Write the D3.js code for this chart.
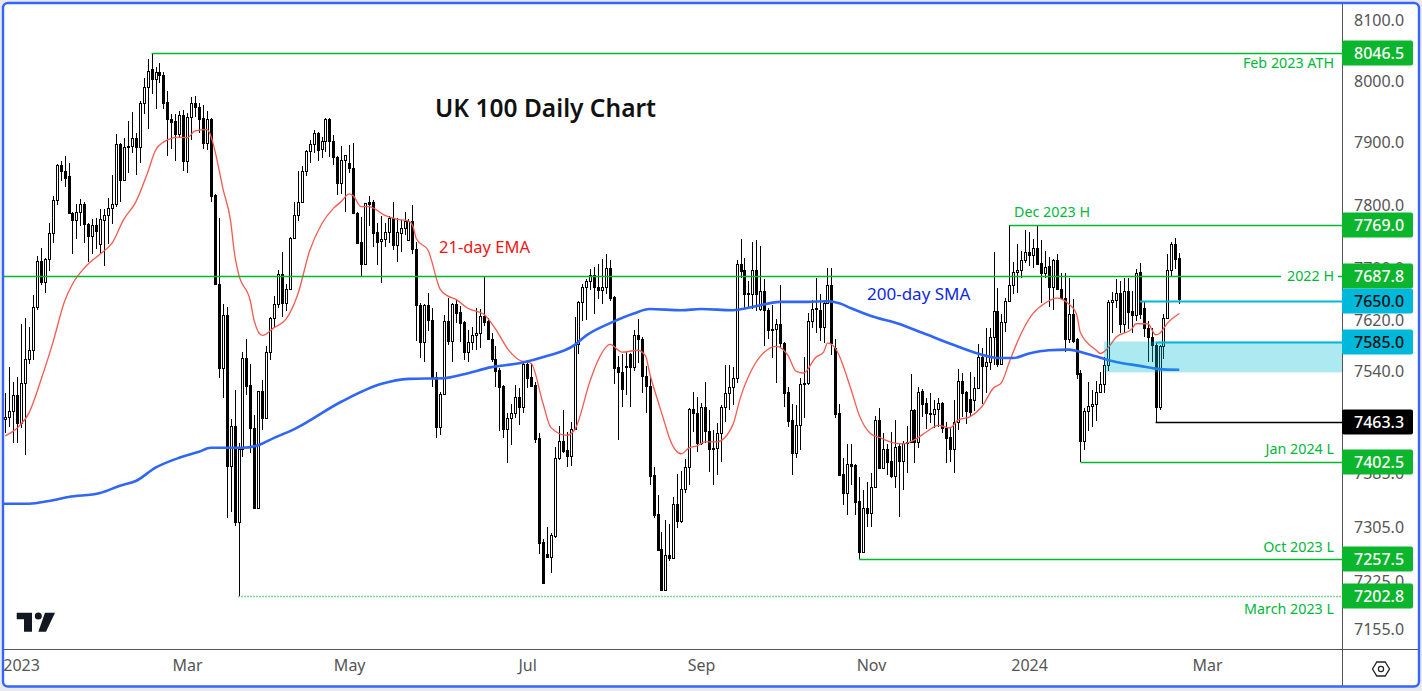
<!DOCTYPE html>
<html>
<head>
<meta charset="utf-8">
<title>UK 100 Daily Chart</title>
<script src="https://cdn.jsdelivr.net/npm/d3@7"></script>
<style>
	html, body { margin: 0; padding: 0; background: #e9e9ef; overflow: hidden; }
	svg { display: block; }
	text { font-family: "Noto Sans", sans-serif; }
</style>
</head>
<body>
<svg id="chart" width="1422" height="691"></svg>
<script>
"use strict";

//daily candles, one value per trading day
var opens = [
	7467,7471,7480,7504,7461,7523,7559,7573,7640,7712,7679,7715,7756,7808,7865,7855,7846,7788,7776,7789,
	7802,7770,7751,7769,7739,7776,7784,7795,7802,7898,7841,7893,7894,7908,7893,7965,7991,8019,8004,8015,
	8010,7966,7939,7935,7914,7945,7870,7942,7965,7958,7940,7899,7939,7816,7676,7545,7627,7396,7457,7313,
	7422,7561,7520,7454,7334,7510,7469,7571,7623,7645,7692,7646,7668,7748,7784,7806,7854,7886,7898,7916,
	7890,7903,7939,7903,7877,7836,7873,7868,7860,7788,7742,7707,7806,7805,7758,7743,7747,7758,7780,7737,
	7756,7764,7745,7775,7731,7643,7585,7643,7620,7532,7455,7506,7618,7587,7645,7632,7617,7571,7585,7597,
	7599,7626,7618,7591,7559,7542,7518,7452,7469,7477,7501,7486,7552,7532,7520,7439,7283,7265,7261,7292,
	7409,7434,7421,7412,7452,7582,7648,7671,7681,7690,7671,7667,7671,7701,7656,7547,7539,7549,7568,7547,
	7597,7590,7533,7518,7383,7325,7273,7212,7264,7259,7340,7314,7362,7395,7483,7477,7431,7486,7449,7422,
	7423,7446,7486,7507,7517,7530,7707,7698,7660,7660,7698,7637,7665,7635,7605,7606,7614,7584,7509,7466,
	7416,7458,7521,7522,7618,7637,7635,7609,7646,7674,7577,7477,7385,7356,7400,7398,7344,7268,7334,7326,
	7365,7466,7394,7422,7404,7382,7427,7404,7431,7433,7482,7433,7511,7492,7477,7476,7483,7492,7454,7440,
	7422,7463,7526,7509,7498,7497,7515,7562,7549,7555,7593,7634,7552,7617,7649,7674,7695,7698,7714,7726,
	7721,7732,7709,7693,7704,7671,7714,7668,7654,7590,7629,7591,7538,7434,7480,7488,7491,7509,7521,7550,
	7648,7651,7662,7614,7665,7634,7627,7695,7638,7608,7593,7581,7486,7579,7623,7698,7739,7717
];
var highs = [
	7507,7547,7524,7532,7614,7623,7609,7659,7720,7732,7717,7772,7815,7866,7870,7878,7868,7790,7802,7810,
	7806,7772,7778,7780,7794,7794,7811,7849,7914,7899,7908,7935,7950,7916,7968,8005,8036,8046.5,8023,8030,
	8014,7983,7947,7947,7952,7953,7948,7974,7976,7965,7961,7952,7940,7818,7780,7645,7640,7468,7512,7431,
	7570,7591,7552,7474,7511,7527,7579,7624,7657,7698,7726,7676,7749,7806,7854,7862,7888,7904,7921,7917,
	7909,7940,7940,7912,7878,7895,7881,7896,7899,7789,7781,7804,7815,7808,7772,7783,7772,7783,7805,7780,
	7776,7789,7778,7800,7742,7646,7644,7662,7638,7539,7509,7627,7654,7646,7652,7641,7618,7605,7609,7638,
	7637,7687,7623,7599,7579,7545,7520,7477,7491,7520,7515,7555,7555,7553,7524,7446,7287,7305,7296,7425,
	7457,7482,7448,7463,7624,7650,7676,7684,7700,7703,7707,7715,7723,7714,7657,7564,7568,7570,7569,7605,
	7622,7593,7549,7532,7395,7353,7298,7316,7310,7350,7385,7389,7407,7484,7509,7501,7492,7524,7482,7451,
	7461,7489,7550,7550,7547,7714,7747,7717,7681,7742,7745,7736,7684,7638,7643,7622,7674,7585,7517,7491,
	7489,7530,7562,7630,7651,7685,7660,7651,7701,7701,7590,7491,7409,7430,7430,7400,7380,7361,7373,7386,
	7472,7485,7446,7430,7448,7466,7430,7434,7457,7536,7483,7517,7513,7500,7507,7497,7500,7494,7463,7455,
	7497,7544,7538,7510,7539,7532,7582,7577,7608,7608,7726,7670,7629,7654,7769,7711,7739,7728,7761,7758,
	7747,7769,7745,7728,7718,7715,7723,7693,7693,7685,7652,7592,7542,7485,7524,7512,7526,7539,7562,7651,
	7663,7684,7681,7685,7685,7665,7700,7709,7649,7618,7608,7585,7581,7629,7723,7742,7748,7725
];
var lows = [
	7446,7455,7431,7431,7454,7413,7552,7558,7635,7674,7662,7696,7740,7800,7839,7829,7786,7723,7747,7767,
	7740,7711,7723,7731,7725,7704,7739,7770,7798,7805,7839,7851,7883,7849,7867,7947,7922,7979,7955,7996,
	7955,7878,7890,7870,7908,7854,7852,7904,7942,7916,7890,7888,7805,7674,7530,7500,7318,7328,7307,7202.8,
	7410,7504,7416,7333,7333,7451,7468,7558,7608,7638,7624,7634,7667,7747,7775,7805,7847,7867,7883,7870,
	7875,7885,7877,7864,7816,7818,7789,7852,7787,7739,7689,7706,7767,7734,7706,7678,7734,7740,7729,7711,
	7726,7753,7743,7723,7588,7561,7555,7603,7517,7439,7443,7505,7581,7555,7615,7585,7558,7555,7573,7574,
	7577,7611,7590,7555,7517,7449,7439,7401,7428,7469,7458,7477,7515,7517,7431,7265,7222,7260,7237,7289,
	7406,7416,7395,7397,7451,7568,7618,7620,7667,7629,7652,7645,7660,7649,7521,7436,7486,7504,7486,7541,
	7553,7507,7477,7368,7319,7270,7211,7211,7255,7259,7304,7311,7356,7368,7448,7418,7428,7431,7388,7368,
	7383,7403,7463,7482,7489,7523,7685,7638,7637,7637,7634,7634,7579,7590,7561,7523,7577,7486,7455,7383,
	7409,7421,7469,7520,7608,7600,7588,7584,7645,7565,7469,7382,7338,7323,7368,7323,7258,7267,7305,7305,
	7364,7393,7393,7383,7379,7364,7320,7361,7386,7432,7401,7424,7471,7452,7461,7454,7455,7446,7401,7403,
	7386,7451,7471,7460,7471,7480,7514,7491,7507,7542,7550,7547,7550,7602,7648,7660,7662,7685,7709,7704,
	7701,7706,7646,7685,7640,7635,7667,7652,7571,7584,7584,7529,7402.5,7421,7449,7455,7465,7507,7507,7541,
	7599,7638,7600,7599,7606,7600,7618,7622,7593,7555,7555,7463.3,7482,7559,7622,7689,7700,7645
];
var closes = [
	7470,7480,7504,7461,7523,7559,7573,7640,7712,7679,7715,7756,7808,7865,7854,7844,7788,7776,7789,7802,
	7770,7751,7769,7759,7778,7784,7795,7802,7898,7841,7893,7894,7908,7893,7965,7991,8017,8004,8015,8009,
	7965,7939,7934,7914,7945,7870,7942,7965,7957,7939,7899,7939,7815,7676,7545,7627,7396,7457,7313,7422,
	7561,7518,7454,7334,7510,7469,7571,7623,7645,7692,7646,7668,7748,7784,7806,7854,7886,7898,7916,7888,
	7903,7939,7903,7877,7836,7873,7880,7859,7788,7740,7707,7803,7802,7756,7742,7747,7758,7780,7737,7758,
	7764,7775,7775,7731,7643,7585,7643,7620,7532,7455,7506,7618,7587,7645,7630,7615,7571,7585,7597,7599,
	7626,7617,7591,7559,7541,7517,7452,7469,7477,7501,7486,7552,7530,7518,7437,7281,7223,7261,7293,7409,
	7434,7419,7412,7452,7582,7648,7671,7681,7690,7671,7667,7671,7701,7654,7545,7539,7514,7547,7547,7597,
	7590,7533,7518,7382,7323,7271,7212,7264,7259,7340,7314,7362,7395,7483,7477,7431,7486,7449,7422,7423,
	7446,7486,7507,7517,7530,7707,7696,7660,7662,7698,7660,7665,7635,7605,7606,7614,7584,7507,7465,7416,
	7458,7521,7522,7618,7637,7638,7609,7646,7674,7584,7476,7383,7356,7400,7397,7343,7268,7334,7326,7365,
	7466,7394,7422,7403,7382,7425,7404,7431,7433,7482,7433,7509,7491,7477,7476,7483,7492,7454,7439,7422,
	7463,7526,7507,7480,7479,7515,7562,7549,7555,7594,7634,7552,7617,7649,7674,7695,7698,7714,7726,7721,
	7732,7707,7693,7703,7671,7714,7668,7654,7590,7629,7588,7536,7434,7480,7488,7491,7509,7521,7550,7648,
	7651,7662,7614,7665,7632,7627,7693,7629,7608,7593,7581,7486,7579,7623,7698,7739,7715,7652
];

//moving averages, read at the bar numbers in the matching *Bars array
var emaBars = [0,3,6,9,12,15,17,20,24,27,30,33,36,38,40,44,46,48,51,52,53,54,55,57,58,59,62,63,65,68,71,74,77,80,83,85,87,88,90,92,96,99,102,103,104,107,110,112,114,117,121,124,127,130,133,136,138,142,144,148,150,153,156,160,162,163,165,167,168,171,173,175,177,180,184,186,189,192,195,198,200,202,205,207,208,210,214,216,219,221,225,227,230,233,236,239,241,244,247,250,252,254,257,260,263,266,269,271,272,276,277,279,281,285,286,289,291,292,294,297];
var emaValues = [7442,7454,7477,7527,7584,7649,7676,7701,7723,7740,7778,7805,7852,7888,7901,7909,7908,7919,7921,7911,7888,7859,7828,7775,7723,7692,7649,7618,7596,7608,7621,7660,7728,7770,7795,7806,7818,7815,7798,7798,7784,7778,7775,7769,7747,7728,7668,7657,7652,7638,7629,7606,7576,7558,7553,7492,7455,7443,7451,7527,7558,7582,7570,7573,7564,7538,7497,7458,7439,7415,7424,7427,7433,7433,7458,7501,7545,7570,7579,7565,7541,7538,7562,7570,7584,7576,7512,7474,7445,7440,7431,7430,7436,7448,7458,7454,7466,7471,7486,7515,7523,7555,7599,7630,7646,7654,7645,7629,7600,7573,7568,7577,7593,7606,7614,7614,7597,7599,7615,7630];
var smaBars = [-1,6,11,16,24,29,33,38,44,49,52,56,60,64,68,73,85,95,102,111,116,123,130,137,144,147,153,159,163,171,176,184,189,196,203,208,211,214,219,226,232,240,246,251,255,259,264,269,274,281,287,292,297];
var smaValues = [7340,7340,7344,7350,7356,7367,7374,7394,7409,7418,7424,7424,7424,7428,7439,7452,7494,7521,7529,7530,7536,7547,7553,7564,7581,7596,7615,7630,7637,7635,7637,7635,7640,7648,7648,7649,7646,7638,7626,7614,7600,7581,7568,7561,7561,7568,7573,7574,7567,7555,7549,7544,7543];

//price axis and date axis
var priceTicks = [8100,8000,7900,7800,7700,7620,7540,7385,7305,7225,7155];
var dateBars = [4,46,87,132,176,219,259,304];
var dateLabels = ["2023","Mar","May","Jul","Sep","Nov","2024","Mar"];

//horizontal levels and their price tags on the axis
var levelValues = [8046.5,7769,7687.8,7650,7585,7463.3,7402.5,7257.5,7202.8];
var levelStartBars = [37,254,-1,287,291,291,272,216,59];
var levelKinds = ["green","green","green","cyan","cyan","black","green","green","dotted"];

//notes written on the chart
var noteTexts = ["Feb 2023 ATH","2022 H","Jan 2024 L","Oct 2023 L","March 2023 L"];
var noteYs = [63,276,449,547,609];

var colors = {
	green: {line: "#00b82e", box: "#0bb52c", text: "#fff"},
	dotted: {line: "#00a82a", box: "#0bb52c", text: "#fff"},
	cyan: {line: "#00b8d9", box: "#00b8d9", text: "#111"},
	black: {line: "#000", box: "#000", text: "#fff"}
};

var plotRight = 1342;
var plotBottom = 649;

var svg = d3.select("#chart");

//white chart card, the blue border goes on last
svg.append("rect")
	.attr("x", 3)
	.attr("y", 3)
	.attr("width", 1416)
	.attr("height", 683.5)
	.attr("rx", 5)
	.style("fill", "#fff");

//the bars sit evenly spaced, the price scale is logarithmic
var x = d3.scaleLinear().domain([0, opens.length - 1]).range([5.3, 1179.3]);
var y = d3.scaleLog().domain([7155, 8100]).range([629, 20]);

svg.append("clipPath")
	.attr("id", "plotClip")
	.append("rect")
	.attr("x", 4)
	.attr("y", 4)
	.attr("width", plotRight - 4)
	.attr("height", plotBottom - 4);

var plot = svg.append("g").attr("clip-path", "url(#plotClip)");

//candles: wick first so a hollow body hides it
var candles = plot.selectAll(".candle")
	.data(opens)
	.enter()
	.append("g")
	.attr("class", "candle")
	.attr("transform", function(d, i){ return "translate(" + (Math.round(x(i)) + 0.5) + ",0)"; });

candles.append("line")
	.attr("y1", function(d, i){ return Math.round(y(highs[i])); })
	.attr("y2", function(d, i){ return Math.round(y(lows[i])); })
	.style("stroke", "#000")
	.style("stroke-width", "1px");

candles.append("rect")
	.attr("x", -1)
	.attr("width", 2)
	.attr("y", function(d, i){ return Math.round(y(Math.max(opens[i], closes[i]))) + 0.5; })
	.attr("height", function(d, i){ return Math.max(1, Math.round(y(Math.min(opens[i], closes[i]))) - Math.round(y(Math.max(opens[i], closes[i])))); })
	.style("fill", function(d, i){ return closes[i] < opens[i] ? "#000" : "#fff"; })
	.style("stroke", "#000")
	.style("stroke-width", "1px");

//21-day EMA and 200-day SMA
var lineOf = function(bars){
	return d3.line()
		.x(function(d, i){ return x(bars[i]); })
		.y(function(d){ return y(d); })
		.curve(d3.curveMonotoneX);
};

plot.append("path")
	.attr("d", lineOf(emaBars)(emaValues))
	.style("fill", "none")
	.style("stroke", "#f9594d")
	.style("stroke-width", "1.3px");

plot.append("path")
	.attr("d", lineOf(smaBars)(smaValues))
	.style("fill", "none")
	.style("stroke", "#2f66f5")
	.style("stroke-width", "2.6px");

//level lines
plot.selectAll(".level")
	.data(levelValues)
	.enter()
	.append("line")
	.attr("class", "level")
	.attr("x1", function(d, i){ return x(levelStartBars[i]); })
	.attr("x2", plotRight)
	.attr("y1", function(d){ return Math.round(y(d)) + 0.5; })
	.attr("y2", function(d){ return Math.round(y(d)) + 0.5; })
	.style("stroke", function(d, i){ return colors[levelKinds[i]].line; })
	.style("stroke-width", function(d, i){ return levelKinds[i] == "cyan" ? "2px" : "1.3px"; })
	.style("stroke-dasharray", function(d, i){ return levelKinds[i] == "dotted" ? "1,2" : null; });

//the zone between the 7585 level and the SMA end is a see-through box over the candles
plot.append("rect")
	.attr("x", x(278))
	.attr("width", plotRight - x(278))
	.attr("y", y(7585) - 1)
	.attr("height", y(7539) - y(7585) + 1)
	.style("fill", "#00bcd4")
	.style("opacity", 0.32);

//axis frame
svg.append("line")
	.attr("x1", plotRight + 0.5).attr("x2", plotRight + 0.5)
	.attr("y1", 4).attr("y2", 686)
	.style("stroke", "#555").style("stroke-width", "1px");
svg.append("line")
	.attr("x1", 4).attr("x2", 1418)
	.attr("y1", plotBottom + 0.5).attr("y2", plotBottom + 0.5)
	.style("stroke", "#555").style("stroke-width", "1px");

//price axis
var priceAxis = svg.append("g")
	.attr("transform", "translate(" + (plotRight + 12) + ",0)")
	.call(d3.axisRight(y).tickValues(priceTicks).tickSize(0).tickPadding(0).tickFormat(d3.format(".1f")));
priceAxis.select(".domain").remove();
priceAxis.selectAll("text")
	.style("font-family", "\"Noto Sans\", sans-serif")
	.style("font-size", "16px")
	.style("fill", "#555");

//date axis
var dateAxis = svg.append("g")
	.attr("transform", "translate(0," + plotBottom + ")")
	.call(d3.axisBottom(x).tickValues(dateBars).tickSize(0).tickPadding(11).tickFormat(function(d, i){ return dateLabels[i]; }));
dateAxis.select(".domain").remove();
dateAxis.selectAll("text")
	.style("font-family", "\"Noto Sans\", sans-serif")
	.style("font-size", "16px")
	.style("fill", "#555");

//price tags over the axis labels
var tags = svg.selectAll(".tag")
	.data(levelValues)
	.enter()
	.append("g")
	.attr("class", "tag")
	.attr("transform", function(d){ return "translate(" + plotRight + "," + Math.round(y(d)) + ")"; });

tags.append("rect")
	.attr("y", -12.5)
	.attr("width", 71)
	.attr("height", 25)
	.attr("rx", 2)
	.style("fill", function(d, i){ return colors[levelKinds[i]].box; });

tags.append("text")
	.attr("x", 12)
	.attr("y", 5.5)
	.style("font-size", "16px")
	.style("font-weight", "500")
	.style("fill", function(d, i){ return colors[levelKinds[i]].text; })
	.text(function(d){ return d.toFixed(1); });

//a white gap in the 2022 H line for its note
svg.append("rect")
	.attr("x", 1281)
	.attr("y", 270)
	.attr("width", 57)
	.attr("height", 12)
	.style("fill", "#fff");

svg.selectAll(".note")
	.data(noteTexts)
	.enter()
	.append("text")
	.attr("class", "note")
	.attr("x", 1334)
	.attr("y", function(d, i){ return noteYs[i] + 5; })
	.attr("text-anchor", "end")
	.style("font-size", "14.3px")
	.style("fill", "#00b83a")
	.text(function(d){ return d; });

svg.append("text")
	.attr("x", 1014).attr("y", 217)
	.style("font-size", "14.3px")
	.style("fill", "#00b83a")
	.text("Dec 2023 H");

svg.append("text")
	.attr("x", 435).attr("y", 117)
	.style("font-size", "24.5px")
	.style("font-weight", "600")
	.style("fill", "#111")
	.text("UK 100 Daily Chart");

svg.append("text")
	.attr("x", 439).attr("y", 252.5)
	.style("font-size", "16.5px")
	.style("fill", "#f01616")
	.text("21-day EMA");

svg.append("text")
	.attr("x", 867).attr("y", 299.5)
	.style("font-size", "17px")
	.style("fill", "#1028e0")
	.text("200-day SMA");

//TradingView mark
var logo = svg.append("g").style("fill", "#131722");
logo.append("path").attr("d", "M16.7 612.7H32V631.7H24V619.3H16.7Z");
logo.append("circle").attr("cx", 38.3).attr("cy", 616).attr("r", 3.5);
logo.append("path").attr("d", "M45 612.7H55L46 631.7H38.3Z");

//settings hexagon in the axis corner
svg.append("path")
	.attr("d", "M1372.5 669L1376.8 662H1385.2L1389.5 669L1385.2 676H1376.8Z")
	.style("fill", "none")
	.style("stroke", "#222")
	.style("stroke-width", "1.3px");
svg.append("circle")
	.attr("cx", 1381).attr("cy", 669).attr("r", 2.6)
	.style("fill", "none")
	.style("stroke", "#222")
	.style("stroke-width", "1.2px");

//blue border around the whole card
svg.append("rect")
	.attr("x", 3)
	.attr("y", 3)
	.attr("width", 1416)
	.attr("height", 683.5)
	.attr("rx", 5)
	.style("fill", "none")
	.style("stroke", "#3366ff")
	.style("stroke-width", "2.4px");
</script>
</body>
</html>
